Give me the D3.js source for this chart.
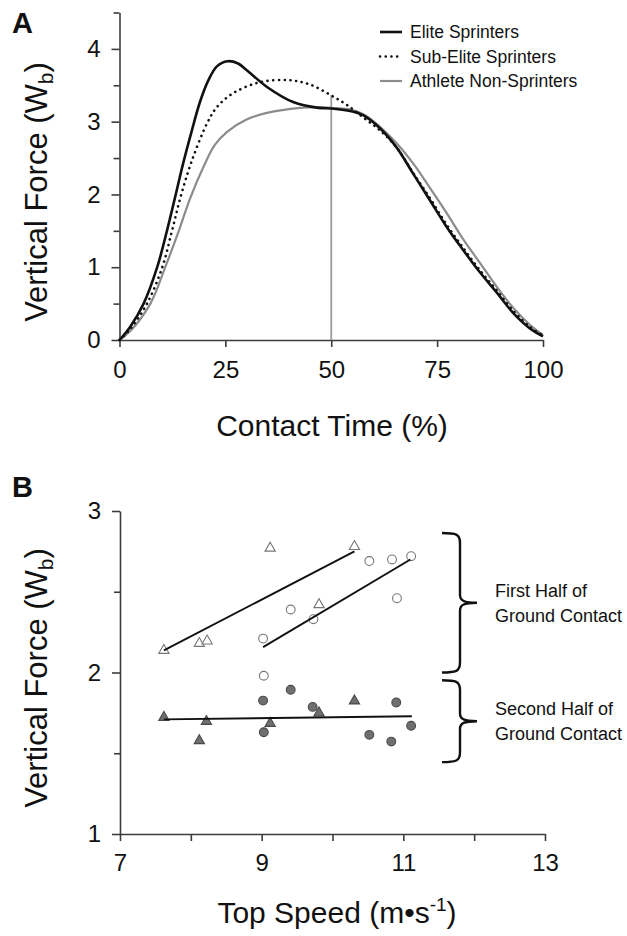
<!DOCTYPE html>
<html>
<head>
<meta charset="utf-8">
<script src="https://cdn.jsdelivr.net/npm/d3@7"></script>
<style>
  body { margin: 0; background: #fff; }
  svg { display: block; }
  text { font-family: "Liberation Sans", Arial, Helvetica, sans-serif; fill: #111; }
</style>
</head>
<body>
<svg id="chart" width="627" height="936"></svg>
<script>
// ---------- Panel A: vertical force vs. contact time ----------
// [contact time %, force in body weights]
const eliteSprinters = [
  [0,0],[2.5,0.18],[5.7,0.5],[8.9,1.0],[11.2,1.5],[13.2,1.98],[15,2.42],[17,2.86],[19,3.27],
  [21,3.57],[23,3.76],[25.5,3.83],[28,3.8],[30,3.71],[35,3.47],[41,3.27],[47,3.19],[50,3.18],[55,3.14],
  [57.5,3.09],[61.5,2.91],[65.5,2.64],[69.3,2.29],[73.3,1.92],[77.3,1.55],[81.1,1.24],
  [85.1,0.93],[89.1,0.65],[93,0.37],[96.9,0.16],[100,0.05]
];
const subEliteSprinters = [
  [0,0],[2.5,0.15],[6.5,0.5],[10.1,1.0],[12.4,1.5],[14.4,1.96],[17,2.45],[20.7,2.98],[23,3.2],
  [26.8,3.39],[33,3.54],[40,3.57],[45,3.51],[50,3.36],[53.7,3.23],[57.5,3.06],[61.5,2.88],
  [65.5,2.64],[69.3,2.3],[73.3,1.95],[77.3,1.58],[81.1,1.27],[85.1,0.96],[89.1,0.68],
  [93,0.4],[96.9,0.18],[100,0.06]
];
const athleteNonSprinters = [
  [0,0],[2.5,0.12],[7.3,0.5],[10.8,1.0],[14,1.5],[16.7,1.95],[20,2.4],[22.5,2.68],[25.4,2.86],[30,3.03],
  [34.8,3.12],[42.6,3.19],[47.3,3.2],[50,3.19],[55,3.16],[58,3.09],[61.5,2.93],[65.5,2.7],
  [69.3,2.43],[73.3,2.09],[77.3,1.74],[81.1,1.39],[85.1,1.06],[89.1,0.73],[93,0.44],
  [96.9,0.21],[100,0.07]
];
const midContactMarker = [[50,0],[50,3.36]];
const legendLabels = ["Elite Sprinters", "Sub-Elite Sprinters", "Athlete Non-Sprinters"];
const timeTicks = [0,25,50,75,100];
const forceTicksA = [0,0.5,1,1.5,2,2.5,3,3.5,4,4.5];

// ---------- Panel B: vertical force vs. top speed ----------
// first half of ground contact (open markers)
const firstHalfTriSpeed  = [7.62, 8.12, 8.23, 9.12, 9.81, 10.31];
const firstHalfTriForce  = [2.137, 2.18, 2.195, 2.77, 2.42, 2.78];
const firstHalfCircSpeed = [9.02, 9.41, 9.73, 10.52, 10.84, 11.11, 10.91, 9.03];
const firstHalfCircForce = [2.21, 2.39, 2.33, 2.69, 2.70, 2.72, 2.46, 1.98];
// second half of ground contact (filled markers)
const secondHalfTriSpeed  = [7.62, 8.22, 8.12, 9.12, 9.81, 10.31];
const secondHalfTriForce  = [1.722, 1.697, 1.578, 1.685, 1.75, 1.824];
const secondHalfCircSpeed = [9.02, 9.41, 9.72, 10.90, 9.03, 11.11, 10.52, 10.83];
const secondHalfCircForce = [1.826, 1.893, 1.787, 1.814, 1.63, 1.67, 1.614, 1.572];
// fitted lines (speed, force end points)
const fitFirstTri  = [[7.62, 2.137], [10.31, 2.75]];
const fitFirstCirc = [[9.02, 2.157], [11.10, 2.70]];
const fitSecond    = [[7.62, 1.71], [11.12, 1.729]];
const bracketLabels = [["First Half of", "Ground Contact"], ["Second Half of", "Ground Contact"]];
const bracketSpans = [[2.864, 2.0], [1.952, 1.445]];
const speedTicks = [7,8,9,10,11,12,13];
const forceTicksB = [1,1.5,2,2.5,3];

const svg = d3.select("#chart");
const axisColor = "#3c3c3c";
const grey = "#8c8c8c";

function styleAxis(g, fontSize) {
  g.select(".domain").attr("stroke", axisColor).attr("stroke-width", 1.6);
  g.selectAll(".tick line").attr("stroke", axisColor).attr("stroke-width", 1.6);
  g.selectAll(".tick text").attr("font-size", fontSize)
    .attr("font-family", '"Liberation Sans", Arial, sans-serif').attr("fill", "#111");
}

// ===== Panel A =====
const xA = d3.scaleLinear().domain([0, 100]).range([119.5, 543]);
const yA = d3.scaleLinear().domain([0, 4.5]).range([340, 12.5]);

const gxA = svg.append("g").attr("transform", `translate(0,${yA(0)})`)
  .call(d3.axisBottom(xA).tickValues(timeTicks).tickSize(7).tickSizeOuter(0).tickPadding(14));
styleAxis(gxA, 24);

const gyA = svg.append("g").attr("transform", `translate(${xA(0)},0)`)
  .call(d3.axisLeft(yA).tickValues(forceTicksA).tickSizeOuter(0).tickPadding(13)
    .tickFormat(d => Number.isInteger(d) ? d : ""));
styleAxis(gyA, 24);
gyA.selectAll(".tick line").attr("x2", d => Number.isInteger(d) ? -8 : -6);

const lineA = d3.line().x(d => xA(d[0])).y(d => yA(d[1])).curve(d3.curveCatmullRom.alpha(0.5));

svg.append("path").datum(midContactMarker).attr("d", d3.line().x(d => xA(d[0])).y(d => yA(d[1])))
  .attr("stroke", "#9a9a9a").attr("stroke-width", 1.8).attr("fill", "none");
svg.append("path").datum(athleteNonSprinters).attr("d", lineA)
  .attr("fill", "none").attr("stroke", grey).attr("stroke-width", 2.2);
svg.append("path").datum(subEliteSprinters).attr("d", lineA)
  .attr("fill", "none").attr("stroke", "#111").attr("stroke-width", 2.6)
  .attr("stroke-dasharray", "0.1,5.6").attr("stroke-linecap", "round");
svg.append("path").datum(eliteSprinters).attr("d", lineA)
  .attr("fill", "none").attr("stroke", "#111").attr("stroke-width", 2.6);

// legend
const legendStyles = [
  { stroke: "#111", width: 2.6, dash: null, cap: "butt" },
  { stroke: "#111", width: 2.6, dash: "0.1,5.6", cap: "round" },
  { stroke: grey, width: 2.2, dash: null, cap: "butt" }
];
const legend = svg.append("g");
legendLabels.forEach((label, i) => {
  const y = 32 + i * 24.5;
  const s = legendStyles[i];
  legend.append("line").attr("x1", 380).attr("x2", 402).attr("y1", y).attr("y2", y)
    .attr("stroke", s.stroke).attr("stroke-width", s.width)
    .attr("stroke-dasharray", s.dash).attr("stroke-linecap", s.cap);
  legend.append("text").attr("x", 410).attr("y", y + 6).attr("font-size", 17.5).text(label);
});

// axis titles A
const yTitleA = svg.append("text").attr("transform", "translate(47,192) rotate(-90)")
  .attr("text-anchor", "middle").attr("font-size", 31);
yTitleA.append("tspan").text("Vertical Force (W");
yTitleA.append("tspan").attr("font-size", 21).attr("dy", 6).text("b");
yTitleA.append("tspan").attr("dy", -6).text(")");

svg.append("text").attr("x", 332).attr("y", 436).attr("text-anchor", "middle")
  .attr("font-size", 30).text("Contact Time (%)");

svg.append("text").attr("x", 12).attr("y", 33).attr("font-size", 29).attr("font-weight", "bold").text("A");

// ===== Panel B =====
const xB = d3.scaleLinear().domain([7, 13]).range([120, 545]);
const yB = d3.scaleLinear().domain([1, 3]).range([834, 511]);

const gxB = svg.append("g").attr("transform", `translate(0,${yB(1)})`)
  .call(d3.axisBottom(xB).tickValues(speedTicks).tickSize(7).tickSizeOuter(0).tickPadding(13)
    .tickFormat(d => d % 2 === 1 ? d : ""));
styleAxis(gxB, 24);

const gyB = svg.append("g").attr("transform", `translate(${xB(7)},0)`)
  .call(d3.axisLeft(yB).tickValues(forceTicksB).tickSizeOuter(0).tickPadding(13)
    .tickFormat(d => Number.isInteger(d) ? d : ""));
styleAxis(gyB, 24);
gyB.selectAll(".tick line").attr("x2", d => Number.isInteger(d) ? -8 : -6);

const tri = d3.symbol().type(d3.symbolTriangle).size(46);
const pts = (sx, fy) => sx.map((s, i) => [s, fy[i]]);

function drawTriangles(data, fill, stroke) {
  svg.append("g").selectAll("path").data(data).join("path")
    .attr("d", tri).attr("transform", d => `translate(${xB(d[0])},${yB(d[1])})`)
    .attr("fill", fill).attr("stroke", stroke).attr("stroke-width", 1.1);
}
function drawCircles(data, fill, stroke) {
  svg.append("g").selectAll("circle").data(data).join("circle")
    .attr("cx", d => xB(d[0])).attr("cy", d => yB(d[1])).attr("r", 4.4)
    .attr("fill", fill).attr("stroke", stroke).attr("stroke-width", 1.1);
}
drawTriangles(pts(firstHalfTriSpeed, firstHalfTriForce), "#fff", "#777");
drawCircles(pts(firstHalfCircSpeed, firstHalfCircForce), "#fff", "#777");
drawTriangles(pts(secondHalfTriSpeed, secondHalfTriForce), "#6f6f6f", "#4a4a4a");
drawCircles(pts(secondHalfCircSpeed, secondHalfCircForce), "#6f6f6f", "#4a4a4a");

const lineB = d3.line().x(d => xB(d[0])).y(d => yB(d[1]));
[fitFirstTri, fitFirstCirc, fitSecond].forEach(f => {
  svg.append("path").datum(f).attr("d", lineB).attr("fill", "none")
    .attr("stroke", "#111").attr("stroke-width", 1.9);
});

// braces
function brace(top, bottom) {
  const xl = 442, xv = 460, xt = 477, mid = (top + bottom) / 2;
  return `M${xl},${top} C${xv - 4},${top} ${xv},${top + 1} ${xv},${top + 10}`
    + ` L${xv},${mid - 8} C${xv},${mid - 2} ${xv + 4},${mid} ${xt},${mid}`
    + ` C${xv + 4},${mid} ${xv},${mid + 2} ${xv},${mid + 8}`
    + ` L${xv},${bottom - 10} C${xv},${bottom - 1} ${xv - 4},${bottom} ${xl},${bottom}`;
}
bracketSpans.forEach((span, i) => {
  const top = yB(span[0]), bottom = yB(span[1]), mid = (top + bottom) / 2;
  svg.append("path").attr("d", brace(top, bottom)).attr("fill", "none")
    .attr("stroke", "#111").attr("stroke-width", 2.4);
  const t = svg.append("text").attr("font-size", 18).attr("fill", "#222");
  t.append("tspan").attr("x", 495).attr("y", mid - 6).text(bracketLabels[i][0]);
  t.append("tspan").attr("x", 495).attr("y", mid + 19).text(bracketLabels[i][1]);
});

// axis titles B
const yTitleB = svg.append("text").attr("transform", "translate(47,678) rotate(-90)")
  .attr("text-anchor", "middle").attr("font-size", 31);
yTitleB.append("tspan").text("Vertical Force (W");
yTitleB.append("tspan").attr("font-size", 21).attr("dy", 6).text("b");
yTitleB.append("tspan").attr("dy", -6).text(")");

const xTitleB = svg.append("text").attr("x", 337).attr("y", 923).attr("text-anchor", "middle")
  .attr("font-size", 30);
xTitleB.append("tspan").text("Top Speed (m•s");
xTitleB.append("tspan").attr("font-size", 19).attr("dy", -12).text("-1");
xTitleB.append("tspan").attr("dy", 12).text(")");

svg.append("text").attr("x", 12).attr("y", 497).attr("font-size", 29).attr("font-weight", "bold").text("B");
</script>
</body>
</html>
